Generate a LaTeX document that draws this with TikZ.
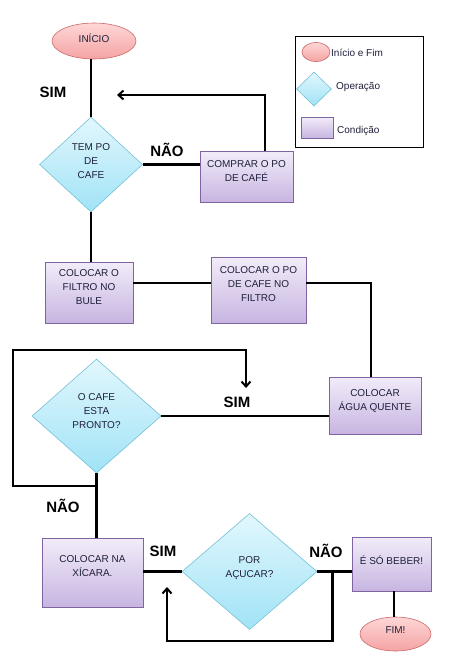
\documentclass[tikz,border=0pt]{standalone}
\usepackage{fontspec}
\setmainfont{Liberation Sans}
\usetikzlibrary{shapes.geometric,arrows.meta,shadows}
\definecolor{txt}{HTML}{1F1F3A}
\definecolor{elltop}{HTML}{FFD6D6}
\definecolor{ellbot}{HTML}{F4A3A3}
\definecolor{elldraw}{HTML}{C96A6A}
\definecolor{boxtop}{HTML}{F2ECF9}
\definecolor{boxbot}{HTML}{C7B5E1}
\definecolor{boxdraw}{HTML}{8064A2}
\definecolor{diatop}{HTML}{E2F7FD}
\definecolor{diabot}{HTML}{A0E3F6}
\definecolor{diadraw}{HTML}{74C0D8}
\tikzset{
  x=1pt, y=-1pt,
  every node/.style={font=\fontsize{10}{14}\selectfont, text=txt, align=center, inner sep=0pt},
  term/.style={ellipse, draw=elldraw, line width=0.6pt, top color=elltop, bottom color=ellbot},
  opbox/.style={rectangle, draw=boxdraw, line width=0.8pt, top color=boxtop, bottom color=boxbot,
    drop shadow={shadow xshift=1.2pt, shadow yshift=-1.2pt, opacity=0.25}},
  decide/.style={diamond, draw=diadraw, line width=0.6pt, top color=diatop, bottom color=diabot},
  conn/.style={line width=2.6pt, draw=black},
  arr/.style={conn, -{Straight Barb[length=5pt,width=9pt,line width=2pt]}},
  lbl/.style={font=\fontsize{15}{18}\bfseries\selectfont, text=black},
  legtxt/.style={font=\fontsize{10}{12}\selectfont, anchor=west, text=txt}
}
\begin{document}
\begin{tikzpicture}
\useasboundingbox (0,0) rectangle (466,662);
% legend
\node[draw=black, line width=0.9pt, minimum width=128pt, minimum height=111pt, fill=white] (legend) at (359,91.5) {};
\node[term, minimum width=28pt, minimum height=19pt] (legell) at (316,52) {};
\node[legtxt] (legt1) at (331,53) {Início e Fim};
\node[decide, minimum width=35pt, minimum height=34pt] (legdia) at (314,89) {};
\node[legtxt] (legt2) at (336,87) {Operação};
\node[opbox, minimum width=32pt, minimum height=21pt] (legbox) at (317,127.5) {};
\node[legtxt] (legt3) at (337,131) {Condição};

% nodes
\node[term, minimum width=84pt, minimum height=36pt] (inicio) at (94,41) {INÍCIO\\[-8pt]};
\node[decide, minimum width=103pt, minimum height=95pt] (tem) at (91,164.5) {TEM PO\\DE\\CAFE\\[-7pt]};
\node[opbox, minimum width=93pt, minimum height=51pt] (compra) at (246.5,176.5) {COMPRAR O PO\\DE CAFÉ\\[-4pt]};
\node[opbox, minimum width=88pt, minimum height=61pt] (filtro) at (89,292.5) {COLOCAR O\\FILTRO NO\\BULE\\[-4pt]};
\node[opbox, minimum width=95pt, minimum height=66pt] (po) at (258.5,290) {COLOCAR O PO\\DE CAFE NO\\FILTRO\\[-3pt]};
\node[opbox, minimum width=92pt, minimum height=57pt] (agua) at (375,405.5) {COLOCAR\\ÁGUA QUENTE\\[-3pt]};
\node[decide, minimum width=129pt, minimum height=114pt] (pronto) at (96.5,416) {O CAFE\\ESTA\\PRONTO?\\[-4pt]};
\node[opbox, minimum width=101pt, minimum height=69pt] (xicara) at (92.5,572.5) {COLOCAR NA\\XÍCARA.\\[-2pt]};
\node[decide, minimum width=135pt, minimum height=116pt] (acucar) at (249.5,571.5) {POR\\AÇUCAR?\\[-5pt]};
\node[opbox, minimum width=79pt, minimum height=54pt] (beber) at (391.5,564) {É SÓ BEBER!\\[-6pt]};
\node[term, minimum width=71pt, minimum height=34pt] (fim) at (395.5,634) {FIM!\\[-6pt]};

% labels
\node[lbl] (l1) at (53,92) {SIM};
\node[lbl] (l2) at (167,150) {NÃO};
\node[lbl] (l3) at (237,402) {SIM};
\node[lbl] (l4) at (63,506) {NÃO};
\node[lbl] (l5) at (163,551) {SIM};
\node[lbl] (l6) at (326,551) {NÃO};

% free ends
\coordinate (tip1) at (117,95);
\coordinate (tip2) at (246,388);
\coordinate (tip3) at (167,587);

% connectors
\draw[conn] (tem.north -| 91,0) -- (91,59);
\draw[arr] ([xshift=18.5pt]compra.north) |- (tip1);
\draw[conn] (tem.east) -- (tem.east -| compra.west);
\draw[conn] (tem.south) -- (tem.south |- filtro.north);
\draw[conn] (filtro.east |- 0,283) -- (po.west |- 0,283);
\draw[conn] (po.east |- 0,283) -| ([xshift=-4pt]agua.north);
\draw[conn] (pronto.east) -- (pronto.east -| agua.west);
\draw[arr] (pronto.south) -- (96.5,486) -| (13,350) -| (tip2);
\draw[conn] (pronto.south) -- (pronto.south |- xicara.north);
\draw[conn] (xicara.east |- acucar.west) -- (acucar.west);
\draw[conn] (acucar.east) -- (acucar.east -| beber.west);
\draw[arr] ([xshift=15pt]acucar.east) |- (167,641) -- (tip3);
\draw[conn] ([xshift=-1.5pt]fim.north) -- ([xshift=-1.5pt]fim.north |- beber.south);
\end{tikzpicture}
\end{document}
